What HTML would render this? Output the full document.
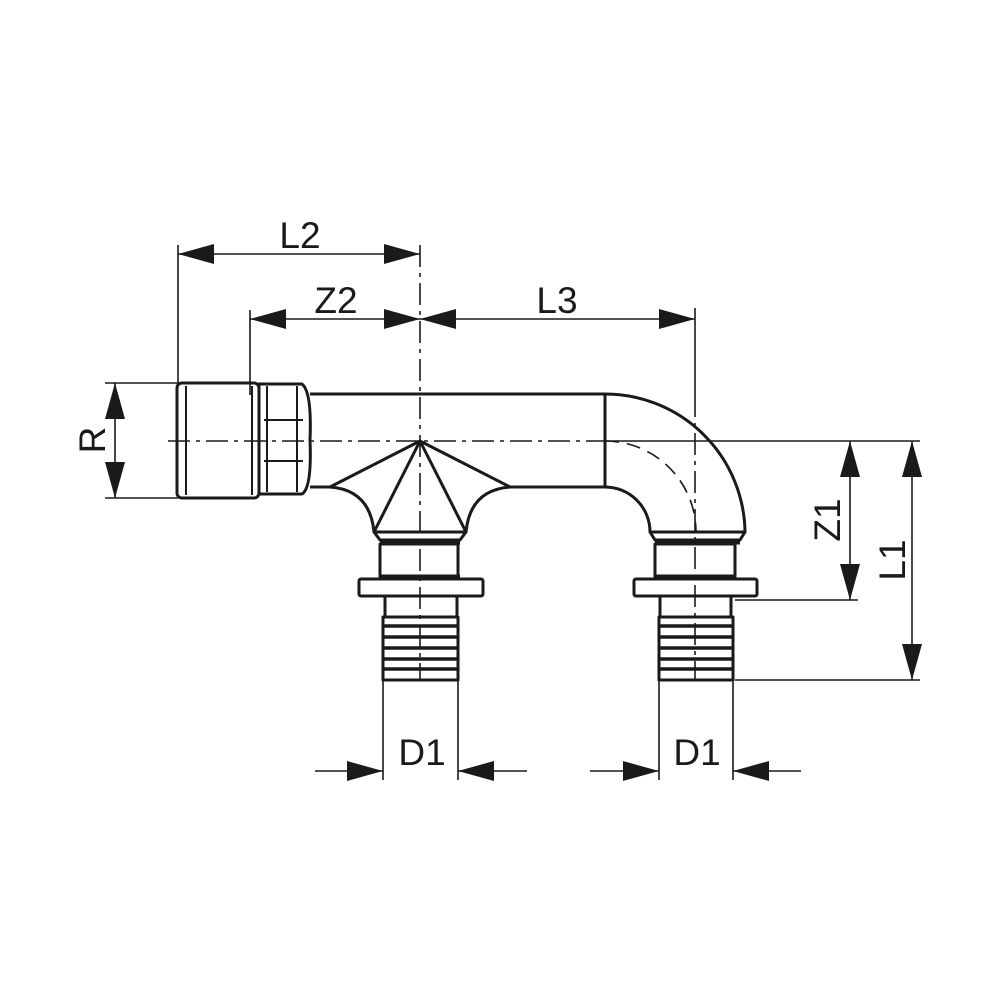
<!DOCTYPE html>
<html><head><meta charset="utf-8"><style>html,body{margin:0;padding:0;background:#fff}svg{display:block}</style></head>
<body>
<svg width="1000" height="1000" viewBox="0 0 1000 1000" xmlns="http://www.w3.org/2000/svg">
<defs>
<g id="arr"><polygon points="0,0 -36,-10 -36,10" fill="#1a1a1a"/></g>
</defs>
<g stroke="#1a1a1a" fill="none" stroke-width="1.6">
<!-- extension lines -->
<line x1="178" y1="245" x2="178" y2="383"/>
<line x1="250" y1="310" x2="250" y2="395"/>
<line x1="695" y1="308" x2="695" y2="395"/>
<line x1="105" y1="383" x2="178" y2="383"/>
<line x1="105" y1="498" x2="178" y2="498"/>
<line x1="605" y1="441" x2="920" y2="441"/>
<line x1="735" y1="600" x2="858" y2="600"/>
<line x1="735" y1="680" x2="920" y2="680"/>
<line x1="383" y1="680" x2="383" y2="780"/>
<line x1="458" y1="680" x2="458" y2="780"/>
<line x1="659" y1="680" x2="659" y2="780"/>
<line x1="733" y1="680" x2="733" y2="780"/>
<!-- dim lines -->
<line x1="178" y1="254" x2="420" y2="254"/>
<line x1="250" y1="319" x2="695" y2="319"/>
<line x1="115" y1="383" x2="115" y2="498"/>
<line x1="850" y1="441" x2="850" y2="600"/>
<line x1="912" y1="441" x2="912" y2="680"/>
<line x1="315" y1="771" x2="383" y2="771"/>
<line x1="458" y1="771" x2="527" y2="771"/>
<line x1="590" y1="771" x2="659" y2="771"/>
<line x1="733" y1="771" x2="801" y2="771"/>
<!-- centerlines -->
<line x1="168" y1="441" x2="605" y2="441" stroke-dasharray="22,6,4,6"/>
<line x1="420" y1="245" x2="420" y2="680" stroke-dasharray="22,6,4,6"/>
<line x1="695" y1="395" x2="695" y2="680" stroke-dasharray="22,6,4,6"/>
<path d="M605,441 A91,91 0 0 1 696,532" stroke-dasharray="14,8"/>
</g>
<!-- arrows -->
<g fill="#1a1a1a">
<polygon points="178,254 214,244 214,264"/><polygon points="420,254 384,244 384,264"/>
<polygon points="250,319 286,309 286,329"/><polygon points="420,319 384,309 384,329"/>
<polygon points="420,319 456,309 456,329"/><polygon points="695,319 659,309 659,329"/>
<polygon points="115,383 105,419 125,419"/><polygon points="115,498 105,462 125,462"/>
<polygon points="850,441 840,477 860,477"/><polygon points="850,600 840,564 860,564"/>
<polygon points="912,441 902,477 922,477"/><polygon points="912,680 902,644 922,644"/>
<polygon points="383,771 347,761 347,781"/><polygon points="458,771 494,761 494,781"/>
<polygon points="659,771 623,761 623,781"/><polygon points="733,771 769,761 769,781"/>
</g>
<!-- part -->
<g stroke="#1a1a1a" fill="none" stroke-width="3" stroke-linejoin="round">
<!-- male thread -->
<rect x="177" y="383" width="82" height="115" rx="5"/>
<line x1="186" y1="386" x2="186" y2="495" stroke-width="2"/>
<line x1="252" y1="386" x2="252" y2="495" stroke-width="2"/>
<!-- hex -->
<path d="M259,384 L302,384 Q312,392 310,440 Q312,488 302,494 L259,494 Z"/>
<line x1="267" y1="386" x2="267" y2="492" stroke-width="2"/>
<line x1="297" y1="386" x2="297" y2="492" stroke-width="2"/>
<line x1="264" y1="420" x2="303" y2="420" stroke-width="2"/>
<line x1="264" y1="461" x2="303" y2="461" stroke-width="2"/>
<!-- pipe -->
<line x1="310" y1="394" x2="605" y2="394"/>
<line x1="310" y1="487" x2="330" y2="487"/>
<line x1="510" y1="487" x2="605" y2="487"/>
<line x1="605" y1="394" x2="605" y2="487"/>
<!-- tee cone -->
<path d="M330,487 Q370,490 374,532 L466,532 Q470,490 510,487"/>
<path d="M330,487 L420,441 L510,487 M374,532 L420,441 L466,532"/>
<path d="M374,532 L380,540 L460,540 L466,532"/>
<line x1="380" y1="542" x2="460" y2="542" stroke-width="5"/>
<rect x="380" y="544" width="78" height="33"/>
<line x1="380" y1="577" x2="460" y2="577" stroke-width="5"/>
<rect x="359" y="579" width="124" height="17" rx="2"/>
<path d="M385,596 L385,618 M457,596 L457,618"/>
<rect x="383" y="617" width="75" height="63"/>
<g stroke-width="3.5">
<line x1="383" y1="626" x2="458" y2="626"/><line x1="383" y1="637" x2="458" y2="637"/>
<line x1="383" y1="648" x2="458" y2="648"/><line x1="383" y1="659" x2="458" y2="659"/>
<line x1="383" y1="669" x2="458" y2="669"/></g>
<!-- elbow -->
<path d="M605,394 A140,140 0 0 1 745,532 L650,532 A45,45 0 0 0 605,487"/>
<path d="M650,532 L655,540 L740,540 L745,532"/>
<line x1="655" y1="542" x2="740" y2="542" stroke-width="5"/>
<rect x="655" y="544" width="80" height="33"/>
<line x1="655" y1="577" x2="735" y2="577" stroke-width="5"/>
<rect x="634" y="579" width="123" height="17" rx="2"/>
<path d="M660,596 L660,618 M731,596 L731,618"/>
<rect x="659" y="617" width="74" height="63"/>
<g stroke-width="3.5">
<line x1="659" y1="626" x2="733" y2="626"/><line x1="659" y1="637" x2="733" y2="637"/>
<line x1="659" y1="648" x2="733" y2="648"/><line x1="659" y1="659" x2="733" y2="659"/>
<line x1="659" y1="669" x2="733" y2="669"/></g>
</g>
<!-- labels -->
<g font-family="Liberation Sans, sans-serif" font-size="37" fill="#1a1a1a" text-anchor="middle">
<text x="300" y="248">L2</text>
<text x="336" y="313">Z2</text>
<text x="557" y="313">L3</text>
<text x="422" y="765">D1</text>
<text x="697" y="765">D1</text>
<text transform="translate(105,440) rotate(-90)">R</text>
<text transform="translate(840,520) rotate(-90)">Z1</text>
<text transform="translate(905,560) rotate(-90)">L1</text>
</g>
</svg>
</body></html>
